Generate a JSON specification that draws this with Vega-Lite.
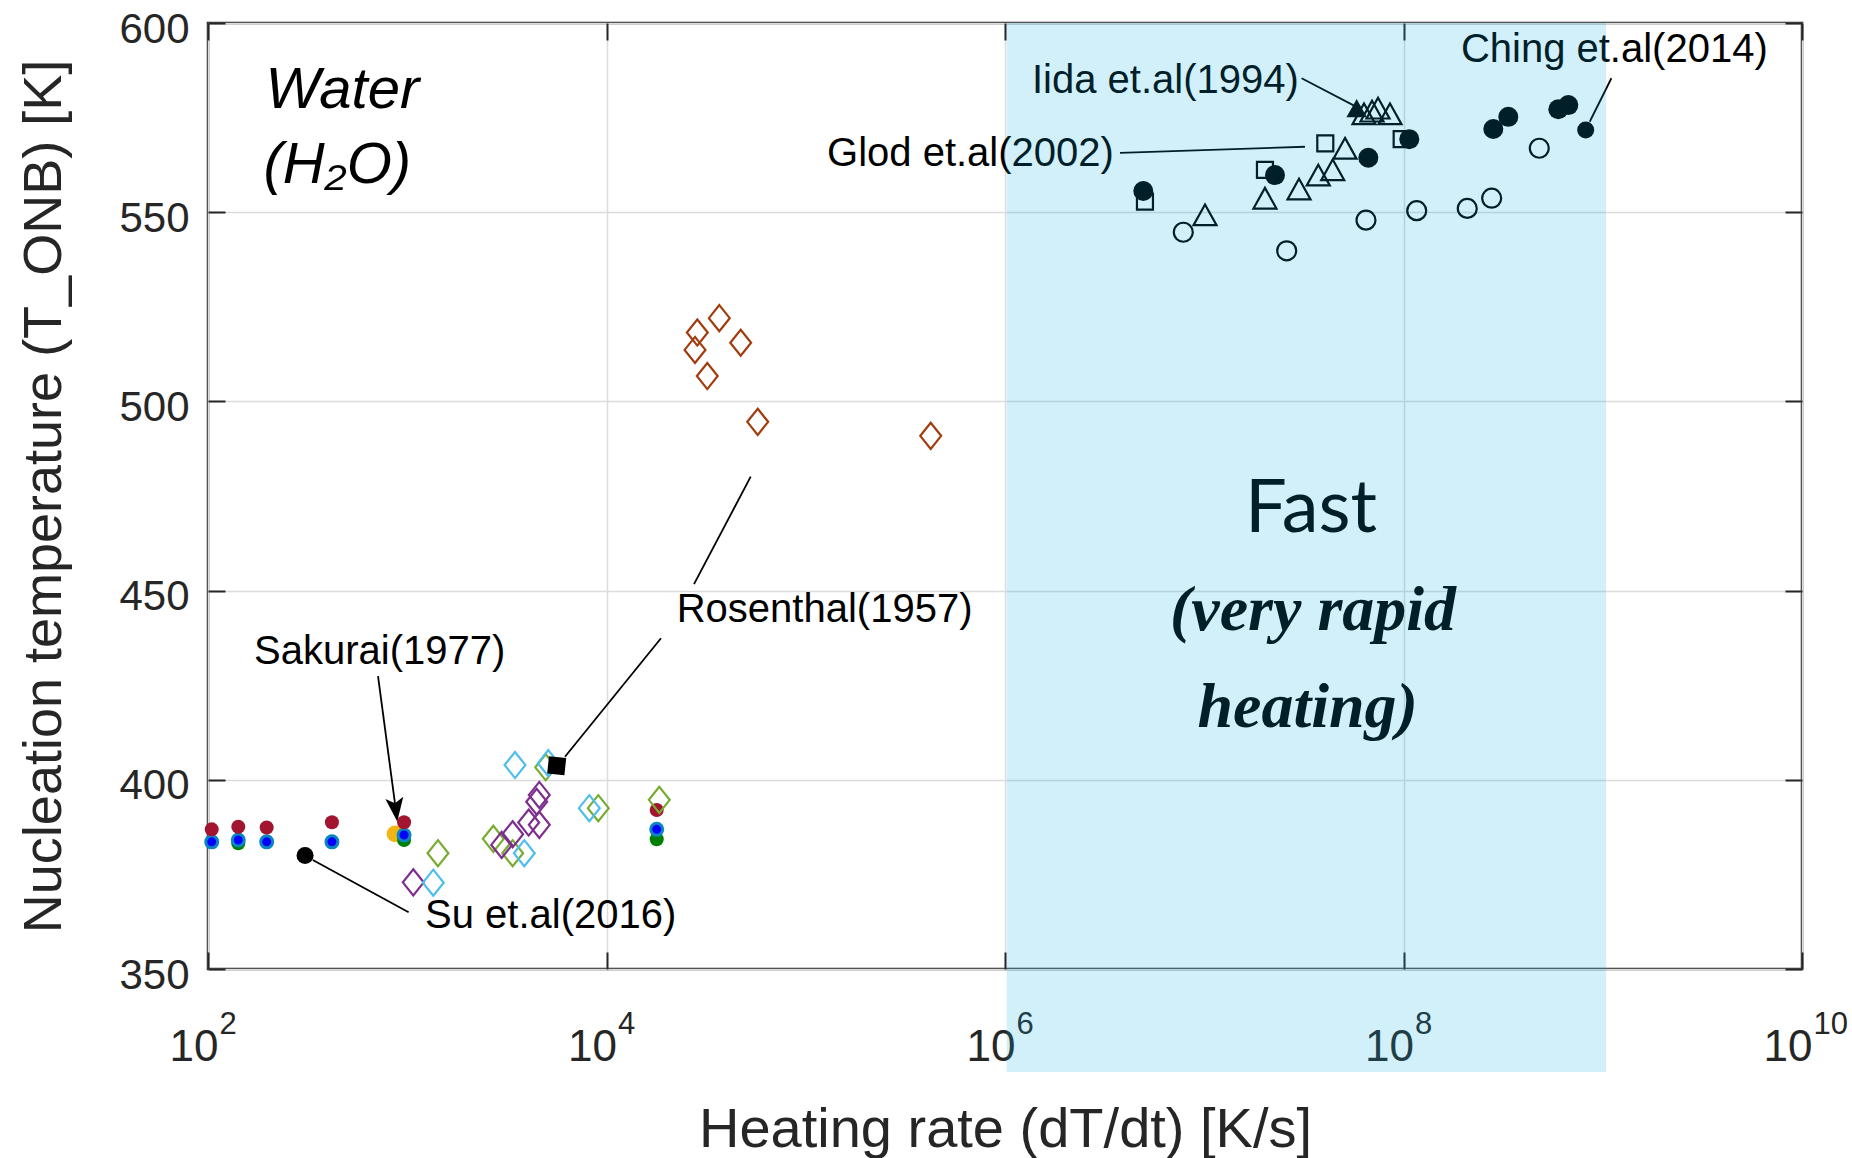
{
"$schema": "https://vega.github.io/schema/vega-lite/v6.json",
"width": 1594, "height": 946,
"autosize": {"type": "none"},
"padding": {"left": 208, "top": 23, "right": 50, "bottom": 189},
"background": "white",
"config": {
  "font": "Liberation Sans",
  "view": {"stroke": "#262626", "strokeWidth": 2.5},
  "axis": {"domain": false, "tickColor": "#262626", "tickWidth": 2, "tickSize": -17, "gridColor": "#dcdcdc", "gridWidth": 1.5, "labelColor": "#262626", "titleColor": "#262626", "labelFont": "Liberation Sans", "titleFont": "Liberation Sans", "titleFontWeight": "normal", "labelFlush": false, "labelOverlap": false}
},
"datasets": {
  "pts": [
    {"g": "rosen", "x": 28560, "T": 518.2}, {"g": "rosen", "x": 36830, "T": 522.0}, {"g": "rosen", "x": 27810, "T": 513.6}, {"g": "rosen", "x": 47150, "T": 515.5}, {"g": "rosen", "x": 32050, "T": 506.7}, {"g": "rosen", "x": 57410, "T": 494.6}, {"g": "rosen", "x": 423800, "T": 490.9},
    {"g": "gold", "x": 868, "T": 385.7},
    {"g": "green", "x": 141.9, "T": 383.2}, {"g": "green", "x": 963.8, "T": 384.1}, {"g": "green", "x": 17865, "T": 384.3},
    {"g": "blue", "x": 104.4, "T": 383.6}, {"g": "blue", "x": 141.9, "T": 384.1}, {"g": "blue", "x": 197, "T": 383.6}, {"g": "blue", "x": 418.8, "T": 383.6}, {"g": "blue", "x": 963.8, "T": 385.4}, {"g": "blue", "x": 17865, "T": 386.9},
    {"g": "red", "x": 104.4, "T": 386.9}, {"g": "red", "x": 141.9, "T": 387.6}, {"g": "red", "x": 197, "T": 387.4}, {"g": "red", "x": 418.8, "T": 388.8}, {"g": "red", "x": 963.8, "T": 388.8}, {"g": "red", "x": 17865, "T": 392.0},
    {"g": "diaG", "x": 1426, "T": 380.6}, {"g": "diaG", "x": 2703, "T": 384.4}, {"g": "diaG", "x": 3381, "T": 380.6}, {"g": "diaG", "x": 4953, "T": 403.3}, {"g": "diaG", "x": 9095, "T": 392.5}, {"g": "diaG", "x": 18408, "T": 394.7},
    {"g": "diaP", "x": 1072, "T": 372.9}, {"g": "diaP", "x": 2979, "T": 382.8}, {"g": "diaP", "x": 3381, "T": 385.6}, {"g": "diaP", "x": 4069, "T": 388.7}, {"g": "diaP", "x": 4600, "T": 388.1}, {"g": "diaP", "x": 4463, "T": 394.2}, {"g": "diaP", "x": 4600, "T": 396.0},
    {"g": "diaC", "x": 1351, "T": 372.8}, {"g": "diaC", "x": 3868, "T": 380.6}, {"g": "diaC", "x": 3474, "T": 403.9}, {"g": "diaC", "x": 5104, "T": 404.4}, {"g": "diaC", "x": 8199, "T": 392.5},
    {"g": "rsq", "x": 5623, "T": 403.7},
    {"g": "su", "x": 307, "T": 380.0},
    {"g": "openSq", "x": 5040000, "T": 552.8}, {"g": "openSq", "x": 20170000, "T": 561.2}, {"g": "openSq", "x": 40500000, "T": 568.2}, {"g": "openSq", "x": 97900000, "T": 569.3},
    {"g": "openCirc", "x": 7850000, "T": 544.7}, {"g": "openCirc", "x": 25930000, "T": 539.8}, {"g": "openCirc", "x": 64830000, "T": 547.9}, {"g": "openCirc", "x": 116500000, "T": 550.4}, {"g": "openCirc", "x": 209000000, "T": 551.0}, {"g": "openCirc", "x": 277100000, "T": 553.7}, {"g": "openCirc", "x": 480300000, "T": 566.9},
    {"g": "openTri", "x": 10090000, "T": 549.3}, {"g": "openTri", "x": 20170000, "T": 553.7}, {"g": "openTri", "x": 29900000, "T": 556.1}, {"g": "openTri", "x": 37350000, "T": 559.8}, {"g": "openTri", "x": 44130000, "T": 561.2}, {"g": "openTri", "x": 50870000, "T": 566.9}, {"g": "openTri", "x": 63350000, "T": 576.0}, {"g": "openTri", "x": 69500000, "T": 576.7}, {"g": "openTri", "x": 74500000, "T": 577.5}, {"g": "openTri", "x": 85550000, "T": 576.0},
    {"g": "filledTri", "x": 58200000, "T": 577.5},
    {"g": "filledCirc", "x": 4944000, "T": 555.6}, {"g": "filledCirc", "x": 22650000, "T": 559.8}, {"g": "filledCirc", "x": 66600000, "T": 564.4}, {"g": "filledCirc", "x": 106900000, "T": 569.3}, {"g": "filledCirc", "x": 282300000, "T": 572.0}, {"g": "filledCirc", "x": 335700000, "T": 575.2}, {"g": "filledCirc", "x": 598400000, "T": 577.2}, {"g": "filledCirc", "x": 671700000, "T": 578.3},
    {"g": "smallCirc", "x": 821000000, "T": 571.7}
  ],
  "lines": [
    {"x": 30810000, "T": 585.4, "x2": 57760000, "T2": 577.9},
    {"x": 3777000, "T": 565.7, "x2": 32030000, "T2": 567.3},
    {"x": 1105000000, "T": 585.4, "x2": 860200000, "T2": 573.9},
    {"x": 52930, "T": 480.1, "x2": 27490, "T2": 451.7},
    {"x": 18770, "T": 437.4, "x2": 6189, "T2": 406.1},
    {"x": 713.4, "T": 427.4, "x2": 876, "T2": 392.1},
    {"x": 335.7, "T": 378.8, "x2": 1016, "T2": 365.0}
  ],
  "arrow": [{"x": 876, "T": 392.1}],
  "names": [
    {"x": 1366000, "T": 581.5, "t": "Iida et.al(1994)"},
    {"x": 127900, "T": 562.2, "t": "Glod et.al(2002)"},
    {"x": 194100000, "T": 589.8, "t": "Ching et.al(2014)"},
    {"x": 22510, "T": 441.8, "t": "Rosenthal(1957)"},
    {"x": 170.2, "T": 430.7, "t": "Sakurai(1977)"},
    {"x": 1228, "T": 360.8, "t": "Su et.al(2016)"}
  ],
  "water": [
    {"x": 194.5, "T": 577.5, "t": "Water"},
    {"x": 189.7, "T": 557.6, "t": "(H₂O)"}
  ],
  "fast": [{"x": 34340000, "T": 465.6, "t": "Fast"}],
  "script": [
    {"x": 35160000, "T": 439.6, "t": "(very rapid"},
    {"x": 33040000, "T": 414.0, "t": "heating)"}
  ],
  "band": [{"x": 1020000, "x2": 1040000000, "T": 600, "T2": 322.8}]
},
"encoding": {
  "x": {"field": "x", "type": "quantitative", "axis": null},
  "y": {"field": "T", "type": "quantitative", "axis": null}
},
"layer": [
  {"data": {"name": "pts"}, "transform": [{"filter": "datum.g == 'rosen'"}],
   "mark": {"type": "point", "shape": "M0,-1L0.8,0L0,1L-0.8,0Z", "filled": false, "size": 680, "strokeWidth": 2.2, "color": "#a23c0c", "opacity": 1},
   "encoding": {
     "x": {"field": "x", "type": "quantitative", "scale": {"type": "log", "domain": [100, 10000000000], "nice": false},
       "axis": {"orient": "bottom", "values": [100, 10000, 1000000, 100000000, 10000000000], "labelExpr": "'10'", "labelFontSize": 44, "labelAlign": "right", "labelOffset": 10, "labelBaseline": "alphabetic", "labelPadding": 108, "grid": true, "title": "Heating rate (dT/dt) [K/s]", "titleFontSize": 56, "titlePadding": 33}},
     "y": {"field": "T", "type": "quantitative", "scale": {"domain": [350, 600], "nice": false, "zero": false},
       "axis": {"orient": "left", "values": [350, 400, 450, 500, 550, 600], "labelFontSize": 42, "labelPadding": 36, "labelBaseline": "middle", "labelOffset": 6, "grid": true, "title": "Nucleation temperature (T_ONB) [K]", "titleFontSize": 54, "titlePadding": 47}}
   }},
  {"data": {"name": "pts"}, "transform": [{"filter": "datum.g == 'gold'"}],
   "mark": {"type": "circle", "size": 280, "color": "#f2b515", "opacity": 1}},
  {"data": {"name": "pts"}, "transform": [{"filter": "datum.g == 'green'"}],
   "mark": {"type": "circle", "size": 196, "color": "#008000", "opacity": 1}},
  {"data": {"name": "pts"}, "transform": [{"filter": "datum.g == 'blue'"}],
   "mark": {"type": "circle", "size": 144, "color": "#0000ff", "stroke": "#0a86c0", "strokeWidth": 3, "opacity": 1}},
  {"data": {"name": "pts"}, "transform": [{"filter": "datum.g == 'red'"}],
   "mark": {"type": "circle", "size": 196, "color": "#a2142f", "opacity": 1}},
  {"data": {"name": "pts"}, "transform": [{"filter": "datum.g == 'diaG'"}],
   "mark": {"type": "point", "shape": "M0,-1L0.8,0L0,1L-0.8,0Z", "filled": false, "size": 680, "strokeWidth": 2.2, "color": "#77ac30", "opacity": 1}},
  {"data": {"name": "pts"}, "transform": [{"filter": "datum.g == 'diaP'"}],
   "mark": {"type": "point", "shape": "M0,-1L0.8,0L0,1L-0.8,0Z", "filled": false, "size": 680, "strokeWidth": 2.2, "color": "#7e2f8e", "opacity": 1}},
  {"data": {"name": "pts"}, "transform": [{"filter": "datum.g == 'diaC'"}],
   "mark": {"type": "point", "shape": "M0,-1L0.8,0L0,1L-0.8,0Z", "filled": false, "size": 680, "strokeWidth": 2.2, "color": "#4dbeee", "opacity": 1}},
  {"data": {"name": "pts"}, "transform": [{"filter": "datum.g == 'rsq'"}],
   "mark": {"type": "square", "size": 300, "color": "#000000", "angle": 6, "opacity": 1}},
  {"data": {"name": "pts"}, "transform": [{"filter": "datum.g == 'su'"}],
   "mark": {"type": "circle", "size": 290, "color": "#000000", "opacity": 1}},
  {"data": {"name": "pts"}, "transform": [{"filter": "datum.g == 'openSq'"}],
   "mark": {"type": "point", "shape": "square", "filled": false, "size": 256, "strokeWidth": 2.2, "color": "#000000", "opacity": 1}},
  {"data": {"name": "pts"}, "transform": [{"filter": "datum.g == 'openCirc'"}],
   "mark": {"type": "point", "shape": "circle", "filled": false, "size": 360, "strokeWidth": 2.2, "color": "#000000", "opacity": 1}},
  {"data": {"name": "pts"}, "transform": [{"filter": "datum.g == 'openTri'"}],
   "mark": {"type": "point", "shape": "M0,-0.9L1,0.9L-1,0.9Z", "filled": false, "size": 529, "strokeWidth": 2.2, "color": "#000000", "opacity": 1}},
  {"data": {"name": "pts"}, "transform": [{"filter": "datum.g == 'filledTri'"}],
   "mark": {"type": "point", "shape": "M0,-0.9L1,0.9L-1,0.9Z", "filled": true, "size": 420, "color": "#000000", "opacity": 1}},
  {"data": {"name": "pts"}, "transform": [{"filter": "datum.g == 'filledCirc'"}],
   "mark": {"type": "circle", "size": 400, "color": "#000000", "opacity": 1}},
  {"data": {"name": "pts"}, "transform": [{"filter": "datum.g == 'smallCirc'"}],
   "mark": {"type": "circle", "size": 290, "color": "#000000", "opacity": 1}},
  {"data": {"name": "lines"},
   "mark": {"type": "rule", "color": "#000000", "strokeWidth": 1.8},
   "encoding": {"x2": {"field": "x2"}, "y2": {"field": "T2"}}},
  {"data": {"name": "arrow"},
   "mark": {"type": "point", "shape": "M-0.75,-1L0,1L0.75,-1L0,-0.55Z", "filled": true, "size": 576, "angle": -7, "color": "#000000", "opacity": 1},
   "encoding": {
     "x": {"field": "x", "type": "quantitative",
       "axis": {"orient": "bottom", "values": [100, 10000, 1000000, 100000000, 10000000000], "labelExpr": "format(round(log(datum.value)/LN10), 'd')", "ticks": false, "grid": false, "title": null, "labelFontSize": 31, "labelAlign": "left", "labelOffset": 11, "labelBaseline": "alphabetic", "labelPadding": 64}}
   }},
  {"data": {"name": "names"},
   "mark": {"type": "text", "align": "left", "baseline": "alphabetic", "fontSize": 40, "font": "Liberation Sans", "color": "#000000"},
   "encoding": {"text": {"field": "t"}}},
  {"data": {"name": "water"},
   "mark": {"type": "text", "align": "left", "baseline": "alphabetic", "fontSize": 58, "fontStyle": "italic", "font": "Liberation Sans", "color": "#000000"},
   "encoding": {"text": {"field": "t"}}},
  {"data": {"name": "fast"},
   "mark": {"type": "text", "align": "center", "baseline": "alphabetic", "fontSize": 74, "font": "Lato", "color": "#000000"},
   "encoding": {"text": {"field": "t"}}},
  {"data": {"name": "script"},
   "mark": {"type": "text", "align": "center", "baseline": "alphabetic", "fontSize": 64, "font": "Liberation Serif", "fontStyle": "italic", "fontWeight": "bold", "color": "#000000"},
   "encoding": {"text": {"field": "t"}}},
  {"data": {"name": "band"},
   "mark": {"type": "rect", "color": "rgb(5,172,228)", "opacity": 0.18},
   "encoding": {
     "x": {"field": "x", "type": "quantitative", "axis": {"orient": "top", "values": [100, 10000, 1000000, 100000000, 10000000000], "labels": false, "grid": false, "title": null}},
     "x2": {"field": "x2"},
     "y": {"field": "T", "type": "quantitative", "axis": {"orient": "right", "values": [350, 400, 450, 500, 550, 600], "labels": false, "grid": false, "title": null}},
     "y2": {"field": "T2"}
   }}
],
"resolve": {"axis": {"x": "independent", "y": "independent"}}
}
